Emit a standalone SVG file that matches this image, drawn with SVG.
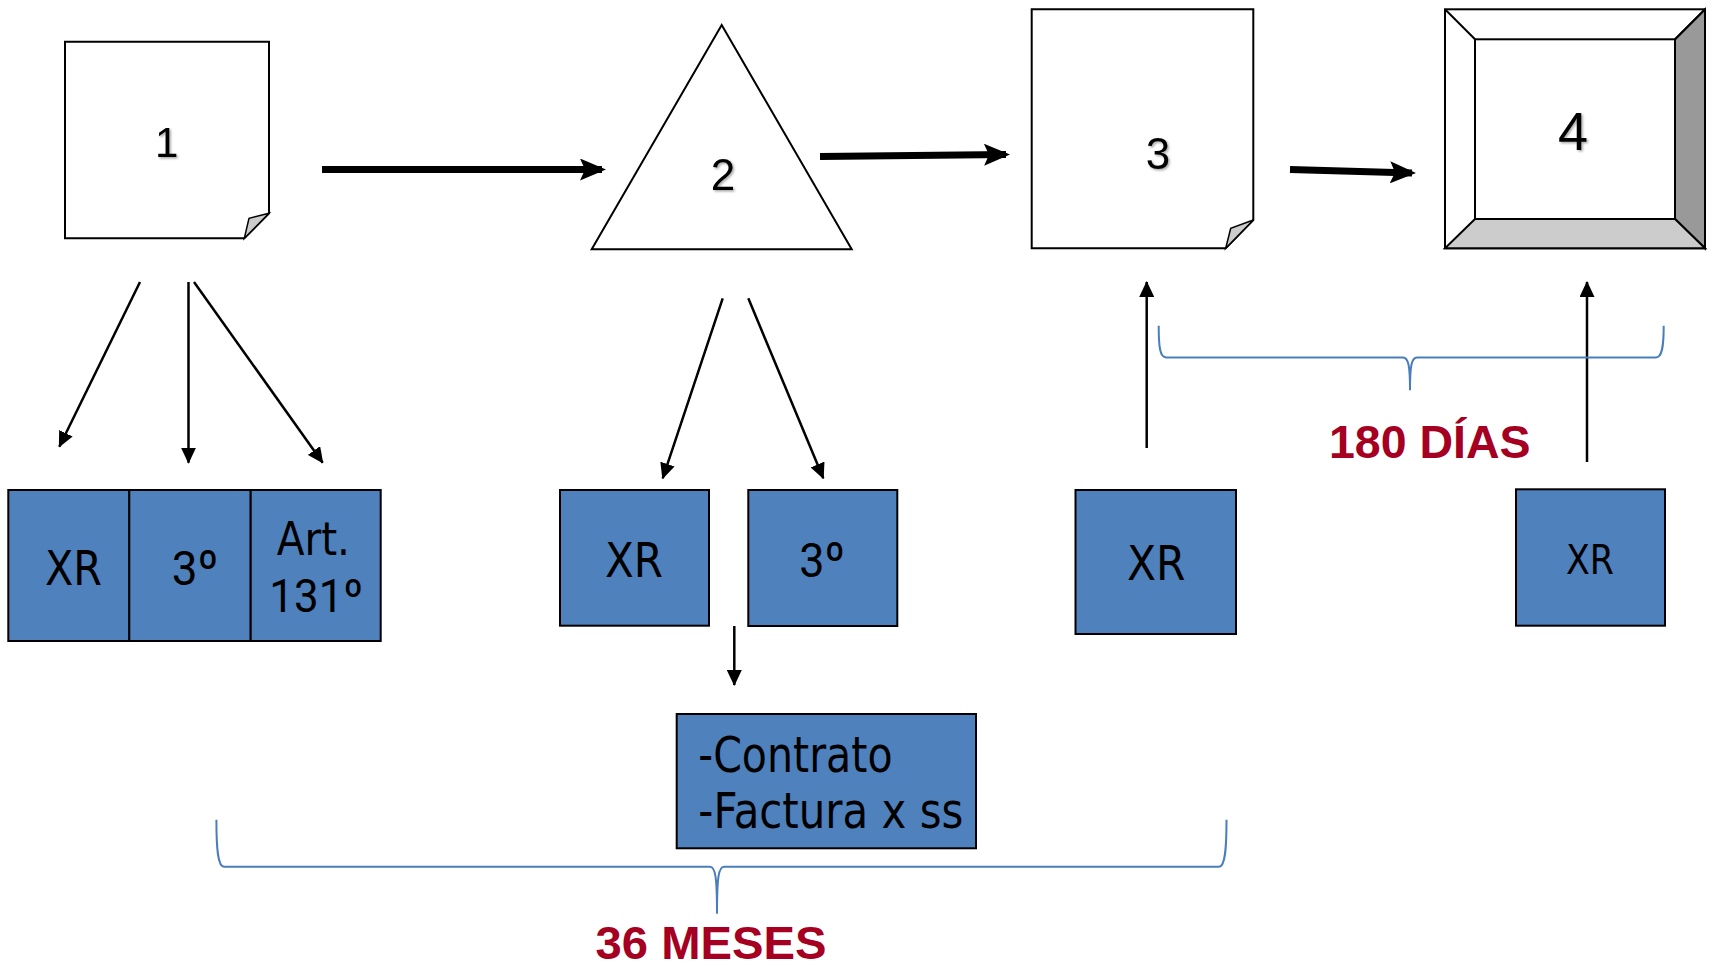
<svg xmlns="http://www.w3.org/2000/svg" width="1714" height="966" viewBox="0 0 1714 966">
<style>
.shape{fill:#fff;stroke:#000;stroke-width:2;stroke-linejoin:miter}
.fold{fill:#ccc;stroke:#000;stroke-width:1.5}
.blue{fill:#4F81BD;stroke:#000;stroke-width:2}
.num{font-family:"Liberation Sans",Arial,sans-serif;fill:#000;text-anchor:middle;filter:url(#sh)}
.lbl{font-family:"DejaVu Sans",Verdana,sans-serif;fill:#000}
.ord{font-family:Roboto,"Open Sans",sans-serif;fill:#000}
.red{font-family:"Liberation Sans",Arial,sans-serif;font-weight:bold;fill:#A50021;font-size:47px}
.thin{stroke:#000;stroke-width:2.5;fill:none;marker-end:url(#ah)}
.thick{stroke:#000;stroke-width:7;fill:none;marker-end:url(#ahb)}
.brace{stroke:#4A7EBB;stroke-width:2;fill:none}
</style>
<defs>
<filter id="sh" x="-30%" y="-30%" width="160%" height="160%">
<feDropShadow dx="1.5" dy="1.5" stdDeviation="1" flood-color="#000" flood-opacity="0.35"/>
</filter>
<marker id="ah" markerUnits="userSpaceOnUse" markerWidth="16" markerHeight="15" refX="15" refY="7.5" orient="auto">
<path d="M0,0 L16,7.5 L0,15 z" fill="#000"/>
</marker>
<marker id="ahb" markerUnits="userSpaceOnUse" markerWidth="26" markerHeight="22" refX="22" refY="11" orient="auto">
<path d="M0,0 L26,11 L0,22 L5,11 z" fill="#000"/>
</marker>
</defs>
<rect width="1714" height="966" fill="#fff"/>

<g id="node1">
<path class="shape" d="M65,41.7 H269 V213.3 L244.3,238.3 H65 Z"/>
<path class="fold" d="M269,213.3 L249,218.3 L244.3,238.3 Z"/>
<text class="num" x="166.7" y="156.7" font-size="42">1</text>
</g>
<g id="node2">
<path class="shape" d="M721.7,25 L591.7,249.3 L851.7,249.3 Z"/>
<text class="num" x="723" y="190" font-size="44">2</text>
</g>
<g id="node3">
<path class="shape" d="M1031.7,9.3 H1253.3 V220 L1225.7,248.3 H1031.7 Z"/>
<path class="fold" d="M1253.3,220 L1230.7,228.3 L1225.7,248.3 Z"/>
<text class="num" x="1158" y="169" font-size="44">3</text>
</g>
<g id="node4">
<rect class="shape" x="1445" y="9.3" width="260" height="239"/>
<path class="shape" d="M1705,9.3 L1705,248.3 L1675,219 L1675,39.3 Z" style="fill:#999"/>
<path class="shape" d="M1445,248.3 L1705,248.3 L1675,219 L1475,219 Z" style="fill:#ccc"/>
<path class="shape" d="M1445,9.3 L1475,39.3 M1705,9.3 L1675,39.3" style="fill:none"/>
<rect class="shape" x="1475" y="39.3" width="200" height="179.7"/>
<text class="num" x="1573" y="150" font-size="54">4</text>
</g>

<g id="box-row1">
<rect class="blue" x="8.3" y="490" width="121" height="151"/>
<rect class="blue" x="129.3" y="490" width="121.4" height="151"/>
<rect class="blue" x="250.7" y="490" width="130" height="151"/>
<text class="lbl" x="45" y="585" font-size="48" textLength="57" lengthAdjust="spacingAndGlyphs">XR</text>
<text class="ord" x="171.7" y="585" font-size="49" textLength="46.7" lengthAdjust="spacingAndGlyphs">3º</text>
<text class="lbl" x="276.7" y="555" font-size="46" textLength="73.3" lengthAdjust="spacingAndGlyphs">Art.</text>
<text class="ord" x="269.3" y="611.7" font-size="46" textLength="94" lengthAdjust="spacingAndGlyphs">131º</text>
</g>
<g id="box-xr2">
<rect class="blue" x="560" y="490" width="149" height="135.7"/>
<text class="lbl" x="605" y="576.7" font-size="48" textLength="58" lengthAdjust="spacingAndGlyphs">XR</text>
</g>
<g id="box-3o2">
<rect class="blue" x="748.3" y="490" width="149" height="136"/>
<text class="ord" x="799.3" y="576.7" font-size="49" textLength="45.7" lengthAdjust="spacingAndGlyphs">3º</text>
</g>
<g id="box-contrato">
<rect class="blue" x="676.7" y="714" width="299.3" height="134.3"/>
<text class="lbl" x="698.3" y="771.7" font-size="50" textLength="194.3" lengthAdjust="spacingAndGlyphs">-Contrato</text>
<text class="lbl" x="698.3" y="828.3" font-size="50" textLength="265" lengthAdjust="spacingAndGlyphs">-Factura x ss</text>
</g>
<g id="box-xr3">
<rect class="blue" x="1075.5" y="490" width="160.5" height="144"/>
<text class="lbl" x="1127" y="580" font-size="48" textLength="58.5" lengthAdjust="spacingAndGlyphs">XR</text>
</g>
<g id="box-xr4">
<rect class="blue" x="1516" y="489.3" width="149" height="136.4"/>
<text class="lbl" x="1566" y="574" font-size="41" textLength="48" lengthAdjust="spacingAndGlyphs">XR</text>
</g>

<g id="connectors">
<line class="thick" x1="322" y1="169.5" x2="602" y2="169.5"/>
<line class="thick" x1="820" y1="156.5" x2="1006" y2="154.5"/>
<line class="thick" x1="1290" y1="169.5" x2="1412" y2="173"/>
<line class="thin" x1="140" y1="282" x2="59.3" y2="446.7"/>
<line class="thin" x1="188.5" y1="282" x2="188.5" y2="462.7"/>
<line class="thin" x1="194" y1="282" x2="322.7" y2="462.7"/>
<line class="thin" x1="722.7" y1="298.3" x2="662.7" y2="478.3"/>
<line class="thin" x1="748.3" y1="298.3" x2="823.3" y2="478.3"/>
<line class="thin" x1="734.3" y1="626" x2="734.3" y2="685"/>
<line class="thin" x1="1146.7" y1="448" x2="1146.7" y2="282"/>
<line class="thin" x1="1587" y1="462" x2="1587" y2="282"/>
</g>

<g id="brace-180">
<path class="brace" d="M1158.7,325.7 C1158.7,347 1160,357.4 1166,357.4 L1403,357.4 C1408.5,357.4 1410,366 1410,390.2 C1410,366 1411.5,357.4 1417,357.4 L1656,357.4 C1662,357.4 1663.7,347 1663.7,325.7"/>
<text class="red" x="1329" y="458.3" textLength="201.5" lengthAdjust="spacingAndGlyphs">180 DÍAS</text>
</g>
<g id="brace-36">
<path class="brace" d="M216.4,819.8 C216.4,850 218,866.8 224,866.8 L710,866.8 C715.5,866.8 717,878 717,913.8 C717,878 718.5,866.8 724,866.8 L1219,866.8 C1225,866.8 1226.5,850 1226.5,819.8"/>
<text class="red" x="595.5" y="959" font-size="48" textLength="231" lengthAdjust="spacingAndGlyphs">36 MESES</text>
</g>
</svg>
